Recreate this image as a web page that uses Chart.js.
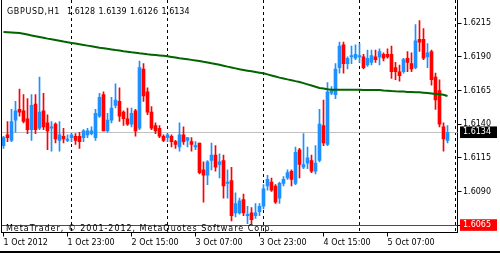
<!DOCTYPE html>
<html>
<head>
<meta charset="utf-8">
<script src="https://cdn.jsdelivr.net/npm/chart.js@4.4.0/dist/chart.umd.min.js"></script>
<style>
  html, body { margin: 0; padding: 0; background: #fff; }
</style>
</head>
<body>
<canvas id="chart" width="500" height="253"></canvas>
<script>
// GBPUSD H1, 1 Oct 2012 07:00 .. 5 Oct 2012 22:00 (112 bars)
const open = [
  1.6124, 1.6132, 1.6128, 1.6143, 1.6151, 1.6150, 1.6144, 1.6136, 1.6155, 1.6137,
  1.6150, 1.6141, 1.6137, 1.6140, 1.6128, 1.6131, 1.6128, 1.6130, 1.6131, 1.6131,
  1.6130, 1.6132, 1.6133, 1.6130, 1.6146, 1.6162, 1.6135, 1.6143, 1.6154, 1.6157,
  1.6149, 1.6144, 1.6140, 1.6150, 1.6137, 1.6181, 1.6164, 1.6149, 1.6139, 1.6137,
  1.6131, 1.6130, 1.6131, 1.6127, 1.6123, 1.6132, 1.6128, 1.6127, 1.6123, 1.6126,
  1.6106, 1.6102, 1.6113, 1.6117, 1.6110, 1.6113, 1.6096, 1.6098, 1.6074, 1.6074,
  1.6084, 1.6072, 1.6074, 1.6072, 1.6075, 1.6079, 1.6094, 1.6097, 1.6094, 1.6085,
  1.6096, 1.6100, 1.6105, 1.6096, 1.6121, 1.6108, 1.6111, 1.6113, 1.6105, 1.6113,
  1.6139, 1.6125, 1.6163, 1.6162, 1.6182, 1.6199, 1.6185, 1.6190, 1.6189, 1.6190,
  1.6190, 1.6184, 1.6186, 1.6190, 1.6190, 1.6192, 1.6192, 1.6192, 1.6182, 1.6179,
  1.6179, 1.6189, 1.6185, 1.6182, 1.6203, 1.6203, 1.6190, 1.6194, 1.6175, 1.6165,
  1.6138, 1.6128
];
const high = [
  1.6131, 1.6142, 1.6151, 1.6157, 1.6166, 1.6162, 1.6159, 1.6162, 1.6162, 1.6175,
  1.6163, 1.6147, 1.6142, 1.6141, 1.6142, 1.6137, 1.6132, 1.6133, 1.6133, 1.6134,
  1.6136, 1.6137, 1.6138, 1.6151, 1.6163, 1.6164, 1.6148, 1.6160, 1.6170, 1.6167,
  1.6150, 1.6152, 1.6152, 1.6151, 1.6187, 1.6185, 1.6167, 1.6153, 1.6141, 1.6139,
  1.6132, 1.6133, 1.6132, 1.6128, 1.6141, 1.6138, 1.6130, 1.6130, 1.6127, 1.6126,
  1.6112, 1.6113, 1.6126, 1.6124, 1.6118, 1.6117, 1.6106, 1.6108, 1.6089, 1.6085,
  1.6088, 1.6079, 1.6078, 1.6081, 1.6081, 1.6095, 1.6102, 1.6100, 1.6095, 1.6097,
  1.6101, 1.6106, 1.6106, 1.6123, 1.6122, 1.6133, 1.6123, 1.6117, 1.6124, 1.6151,
  1.6158, 1.6171, 1.6168, 1.6185, 1.6201, 1.6201, 1.6190, 1.6198, 1.6199, 1.6200,
  1.6192, 1.6195, 1.6195, 1.6195, 1.6196, 1.6193, 1.6196, 1.6198, 1.6186, 1.6184,
  1.6189, 1.6194, 1.6193, 1.6214, 1.6217, 1.6211, 1.6200, 1.6195, 1.6178, 1.6173,
  1.6141, 1.6139
];
const low = [
  1.6122, 1.6127, 1.6127, 1.6134, 1.6146, 1.6141, 1.6133, 1.6128, 1.6133, 1.6136,
  1.6136, 1.6121, 1.6120, 1.6126, 1.6120, 1.6126, 1.6127, 1.6127, 1.6125, 1.6122,
  1.6127, 1.6130, 1.6132, 1.6128, 1.6145, 1.6135, 1.6134, 1.6141, 1.6152, 1.6142,
  1.6139, 1.6139, 1.6138, 1.6131, 1.6136, 1.6157, 1.6147, 1.6136, 1.6133, 1.6130,
  1.6127, 1.6127, 1.6123, 1.6122, 1.6120, 1.6125, 1.6123, 1.6120, 1.6121, 1.6103,
  1.6082, 1.6095, 1.6106, 1.6105, 1.6100, 1.6085, 1.6085, 1.6068, 1.6071, 1.6073,
  1.6072, 1.6066, 1.6066, 1.6070, 1.6072, 1.6077, 1.6091, 1.6090, 1.6081, 1.6081,
  1.6094, 1.6099, 1.6094, 1.6095, 1.6100, 1.6107, 1.6107, 1.6104, 1.6103, 1.6112,
  1.6124, 1.6124, 1.6162, 1.6159, 1.6178, 1.6178, 1.6181, 1.6185, 1.6188, 1.6186,
  1.6181, 1.6183, 1.6184, 1.6186, 1.6184, 1.6187, 1.6189, 1.6174, 1.6173, 1.6172,
  1.6178, 1.6179, 1.6179, 1.6181, 1.6194, 1.6188, 1.6182, 1.6169, 1.6151, 1.6138,
  1.6120, 1.6126
];
const close = [
  1.6130, 1.6130, 1.6142, 1.6150, 1.6149, 1.6142, 1.6136, 1.6154, 1.6136, 1.6149,
  1.6138, 1.6135, 1.6138, 1.6129, 1.6132, 1.6129, 1.6129, 1.6132, 1.6128, 1.6127,
  1.6135, 1.6135, 1.6135, 1.6148, 1.6160, 1.6135, 1.6143, 1.6152, 1.6158, 1.6146,
  1.6144, 1.6140, 1.6148, 1.6135, 1.6182, 1.6161, 1.6149, 1.6137, 1.6135, 1.6131,
  1.6128, 1.6132, 1.6127, 1.6125, 1.6132, 1.6127, 1.6130, 1.6125, 1.6124, 1.6104,
  1.6102, 1.6112, 1.6117, 1.6108, 1.6112, 1.6094, 1.6097, 1.6072, 1.6081, 1.6083,
  1.6074, 1.6073, 1.6069, 1.6074, 1.6079, 1.6092, 1.6099, 1.6091, 1.6082, 1.6096,
  1.6099, 1.6104, 1.6099, 1.6119, 1.6110, 1.6110, 1.6115, 1.6105, 1.6111, 1.6140,
  1.6126, 1.6164, 1.6165, 1.6181, 1.6198, 1.6185, 1.6189, 1.6191, 1.6192, 1.6191,
  1.6182, 1.6189, 1.6191, 1.6188, 1.6194, 1.6189, 1.6190, 1.6179, 1.6179, 1.6176,
  1.6188, 1.6186, 1.6181, 1.6202, 1.6201, 1.6189, 1.6193, 1.6173, 1.6158, 1.6140,
  1.6129, 1.6134
];
// moving average (dark green line)
const movingAvg = [
  1.62086, 1.62084, 1.62082, 1.62080, 1.62078, 1.62072, 1.62066, 1.62060, 1.62054, 1.62048,
  1.62042, 1.62036, 1.62031, 1.62026, 1.62020, 1.62014, 1.62009, 1.62004, 1.61999, 1.61994,
  1.61989, 1.61984, 1.61979, 1.61974, 1.61969, 1.61965, 1.61960, 1.61956, 1.61951, 1.61947,
  1.61942, 1.61938, 1.61934, 1.61931, 1.61927, 1.61924, 1.61920, 1.61917, 1.61914, 1.61911,
  1.61908, 1.61905, 1.61900, 1.61895, 1.61890, 1.61886, 1.61882, 1.61878, 1.61874, 1.61870,
  1.61864, 1.61859, 1.61853, 1.61848, 1.61842, 1.61835, 1.61828, 1.61822, 1.61815, 1.61808,
  1.61803, 1.61798, 1.61793, 1.61788, 1.61783, 1.61778, 1.61770, 1.61762, 1.61754, 1.61746,
  1.61740, 1.61733, 1.61727, 1.61720, 1.61714, 1.61705, 1.61696, 1.61687, 1.61678, 1.61669,
  1.61665, 1.61660, 1.61656, 1.61656, 1.61656, 1.61656, 1.61655, 1.61655, 1.61655, 1.61655,
  1.61654, 1.61654, 1.61654, 1.61654, 1.61654, 1.61651, 1.61649, 1.61646, 1.61644, 1.61643,
  1.61642, 1.61640, 1.61639, 1.61638, 1.61637, 1.61634, 1.61631, 1.61628, 1.61625, 1.61622,
  1.61619, 1.61609
];

// time axis: bar slots (2 empty slots of chart shift on the right)
const slotCount = 114;
const xTickIndex  = [0, 16, 32, 48, 64, 80, 96];
const xTickLabels = ['1 Oct 2012', '1 Oct 23:00', '2 Oct 15:00', '3 Oct 07:00', '3 Oct 23:00', '4 Oct 15:00', '5 Oct 07:00'];
const daySeparators = [17, 41, 65, 89, 113];

// price axis
const yTicks = [1.6065, 1.6090, 1.6115, 1.6140, 1.6165, 1.6190, 1.6215];
const bidPrice   = 1.6134;
const levelPrice = 1.6065;
const yMin = 1.605946, yMax = 1.623232;

const symbolLabel = 'GBPUSD,H1';
const copyright = 'MetaTrader, \u00A9 2001-2012, MetaQuotes Software Corp.';

const BULL = '#1E90FF', BEAR = '#FF0000';
const FONT = { family: 'DejaVu Sans', size: 8 };
const candleColor = close.map((c, i) => c >= open[i] ? BULL : BEAR);
const slots = Array.from({ length: slotCount }, (_, i) => i);

// text drawn to a given width (terminal font is wider than DejaVu)
function spacedText(ctx, txt, x, y, targetW) {
  ctx.letterSpacing = '0px';
  const w = ctx.measureText(txt).width;
  ctx.letterSpacing = Math.max(0, (targetW - w) / txt.length).toFixed(2) + 'px';
  ctx.fillText(txt, x, y);
  ctx.letterSpacing = '0px';
}

// extra drawing: bid / level lines, frame, header and copyright
const terminalLook = {
  id: 'terminalLook',
  beforeDatasetsDraw(chart) {
    const { ctx, chartArea: a, scales: { y } } = chart;
    const hline = (v, col) => {
      const py = Math.round(y.getPixelForValue(v)) + 0.5;
      ctx.strokeStyle = col;
      ctx.lineWidth = 1;
      ctx.beginPath(); ctx.moveTo(a.left, py); ctx.lineTo(a.right, py); ctx.stroke();
    };
    ctx.save();
    hline(bidPrice, '#C0C0C0');
    hline(levelPrice, '#FF0000');
    ctx.restore();
  },
  afterDraw(chart) {
    const { ctx, chartArea: a, width, height } = chart;
    ctx.save();
    ctx.strokeStyle = '#000';
    ctx.lineWidth = 1;
    ctx.beginPath(); ctx.moveTo(a.left, a.top); ctx.lineTo(a.left, a.bottom); ctx.stroke();
    ctx.fillStyle = '#000';
    ctx.fillRect(0, height - 2, width, 2);
    ctx.font = '8px "DejaVu Sans"';
    ctx.textBaseline = 'alphabetic';
    spacedText(ctx, symbolLabel, 7, 14, 53);
    const last = open.length - 1;
    [open[last], high[last], low[last], close[last]].forEach((v, k) => {
      ctx.fillText(v.toFixed(4), 67 + k * 31.5, 14);
    });
    spacedText(ctx, copyright, 6, 230.5, 268);
    ctx.restore();
  }
};

new Chart(document.getElementById('chart'), {
  type: 'bar',
  data: {
    labels: slots,
    datasets: [
      { type: 'line', data: movingAvg, borderColor: '#006400', borderWidth: 2, pointRadius: 0, tension: 0, order: 0 },
      { data: open.map((o, i) => [o, close[i]]), backgroundColor: candleColor, barThickness: 3, minBarLength: 1, grouped: false, order: 1 },
      { data: low.map((l, i) => [l, high[i]]), backgroundColor: candleColor, barThickness: 1, grouped: false, order: 2 }
    ]
  },
  options: {
    responsive: false,
    animation: false,
    layout: { padding: { left: 1.5, top: 0, right: 0, bottom: 0 } },
    plugins: { legend: { display: false }, tooltip: { enabled: false } },
    scales: {
      x: {
        type: 'category',
        offset: true,
        grid: {
          offset: false,
          drawOnChartArea: true,
          drawTicks: true,
          tickLength: 4,
          lineWidth: 1,
          color: c => daySeparators.includes(c.index) ? '#000' : 'rgba(0,0,0,0)',
          tickColor: c => xTickIndex.includes(c.index) ? '#000' : 'rgba(0,0,0,0)'
        },
        border: { display: true, color: '#000', width: 1, dash: [3, 3] },
        ticks: {
          autoSkip: false, maxRotation: 0, minRotation: 0, align: 'start', padding: 2,
          color: '#000', font: FONT,
          callback: (v, i) => {
            const k = xTickIndex.indexOf(i);
            return k >= 0 ? xTickLabels[k] : '';
          }
        },
        afterFit: s => { s.height = 20.5; s.paddingLeft = 0; s.paddingRight = 0; }
      },
      y: {
        position: 'right',
        min: yMin,
        max: yMax,
        afterBuildTicks: s => {
          s.ticks = yTicks.concat([bidPrice]).sort((p, q) => p - q).map(v => ({ value: v }));
        },
        grid: {
          drawOnChartArea: false,
          drawTicks: true,
          tickLength: 4,
          tickColor: c => (c.tick && c.tick.value === bidPrice) ? 'rgba(0,0,0,0)' : '#000'
        },
        border: { display: true, color: '#000', width: 1 },
        ticks: {
          autoSkip: false,
          padding: 1.5,
          font: FONT,
          color: c => (c.tick && (c.tick.value === bidPrice || c.tick.value === levelPrice)) ? '#fff' : '#000',
          showLabelBackdrop: c => !!c.tick && (c.tick.value === bidPrice || c.tick.value === levelPrice),
          backdropColor: c => (c.tick && c.tick.value === levelPrice) ? '#FF0000' : '#000',
          backdropPadding: { top: 1, bottom: 1, left: 3, right: 6 },
          callback: v => Number(v).toFixed(4)
        },
        afterFit: s => { s.width = 42.5; s.paddingTop = 0; s.paddingBottom = 0; }
      }
    }
  },
  plugins: [terminalLook]
});
</script>
</body>
</html>
